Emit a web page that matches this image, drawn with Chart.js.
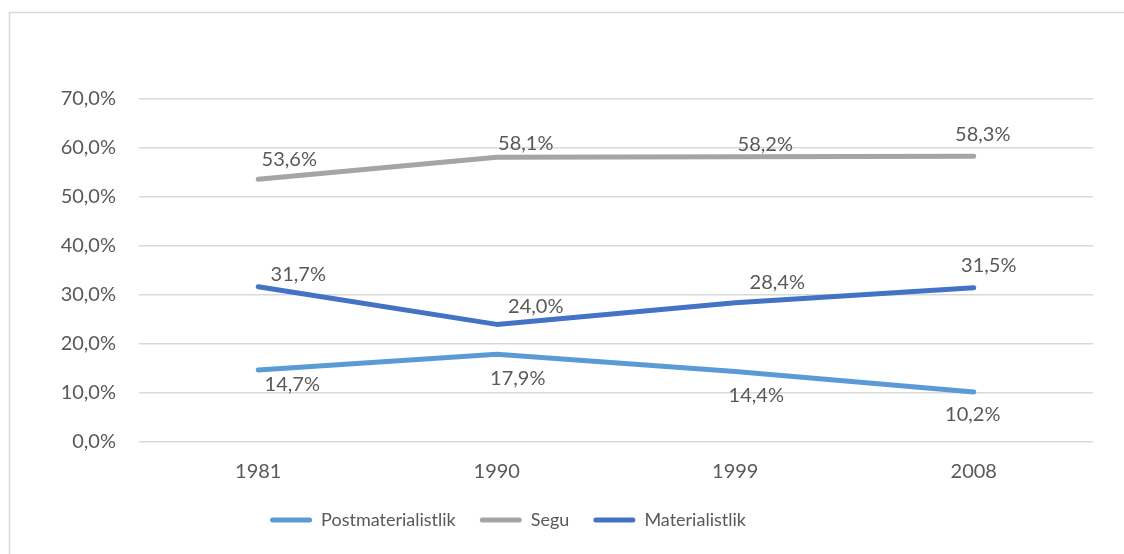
<!DOCTYPE html>
<html>
<head>
<meta charset="utf-8">
<script src="https://cdn.jsdelivr.net/npm/chart.js@4"></script>
<style>
    html, body { margin: 0; padding: 0; background: #ffffff; }
    #wrap { width: 1124px; height: 554px; position: relative; }
</style>
</head>
<body>
<div id="wrap"><canvas id="valuesChart"></canvas></div>
<script>
// values
const years = ['1981', '1990', '1999', '2008'];
const postmaterialistlik = [14.7, 17.9, 14.4, 10.2];
const segu = [53.6, 58.1, 58.2, 58.3];
const materialistlik = [31.7, 24.0, 28.4, 31.5];

// label nudges (px) so the value labels sit where they do in the original
const labelOffsets = [
    [[34, 15], [21, 24], [21, 24], [-1, 23]],
    [[31, -20], [29, -14], [30, -12], [9, -22]],
    [[40, -12], [39, -18], [42, -20], [15, -22]]
];

const textColor = '#595959';
const fontFamily = 'Lato, "Open Sans", sans-serif';

function pct(v) {
    return v.toFixed(1).replace('.', ',') + '%';
}

// draws the grey frame around the whole chart
const framePlugin = {
    id: 'frame',
    beforeDraw(chart) {
        const ctx = chart.ctx;
        ctx.save();
        ctx.strokeStyle = '#d9d9d9';
        ctx.lineWidth = 1.5;
        ctx.strokeRect(9.5, 12.5, 2000, 2000);
        ctx.restore();
    }
};

// legend in the original sits a bit left of centre
const legendShift = {
    id: 'legendShift',
    afterLayout(chart) {
        if (chart.legend) {
            chart.legend.right = 1016;
        }
    }
};

// simple value labels next to each point
const valueLabels = {
    id: 'valueLabels',
    afterDatasetsDraw(chart) {
        const ctx = chart.ctx;
        ctx.save();
        ctx.font = '20px ' + fontFamily;
        ctx.fillStyle = textColor;
        ctx.textAlign = 'center';
        ctx.textBaseline = 'middle';
        chart.data.datasets.forEach((ds, i) => {
            const meta = chart.getDatasetMeta(i);
            meta.data.forEach((pt, j) => {
                const off = labelOffsets[i][j];
                ctx.fillText(pct(ds.data[j]), pt.x + off[0], pt.y + off[1]);
            });
        });
        ctx.restore();
    }
};

function lineSet(label, data, color) {
    return {
        label: label,
        data: data,
        borderColor: color,
        backgroundColor: color,
        borderWidth: 5,
        borderCapStyle: 'round',
        borderJoinStyle: 'round',
        pointRadius: 0,
        pointHoverRadius: 0,
        fill: false,
        tension: 0
    };
}

const ctx = document.getElementById('valuesChart').getContext('2d');
new Chart(ctx, {
    type: 'line',
    data: {
        labels: years,
        datasets: [
            lineSet('Postmaterialistlik', postmaterialistlik, '#5b9bd5'),
            lineSet('Segu', segu, '#a5a5a5'),
            lineSet('Materialistlik', materialistlik, '#4472c4')
        ]
    },
    options: {
        responsive: true,
        maintainAspectRatio: false,
        animation: false,
        layout: { padding: { top: 99, right: 31, bottom: 15, left: 0 } },
        plugins: {
            legend: {
                display: true,
                position: 'bottom',
                labels: {
                    color: textColor,
                    font: { family: fontFamily, size: 18 },
                    boxWidth: 42,
                    boxHeight: 5,
                    padding: 24,
                    generateLabels(chart) {
                        const items = Chart.defaults.plugins.legend.labels.generateLabels(chart);
                        items.forEach(it => {
                            it.lineWidth = 0;
                            it.borderRadius = 2.5;
                        });
                        return items;
                    },
                    useBorderRadius: true,
                    borderRadius: 2.5
                }
            },
            title: { display: false },
            tooltip: { enabled: false }
        },
        scales: {
            x: {
                offset: true,
                grid: { display: false, drawTicks: false },
                border: { display: false },
                ticks: {
                    color: textColor,
                    font: { family: fontFamily, size: 20 },
                    padding: 18
                },
                afterFit(scale) { scale.height = 45; }
            },
            y: {
                min: 0,
                max: 70,
                grid: { color: '#d9d9d9', lineWidth: 1.5, drawTicks: false },
                border: { display: false },
                ticks: {
                    stepSize: 10,
                    color: textColor,
                    font: { family: fontFamily, size: 20 },
                    padding: 23,
                    callback: v => pct(v)
                },
                afterFit(scale) { scale.width = 139; }
            }
        }
    },
    plugins: [framePlugin, legendShift, valueLabels]
});
</script>
</body>
</html>
